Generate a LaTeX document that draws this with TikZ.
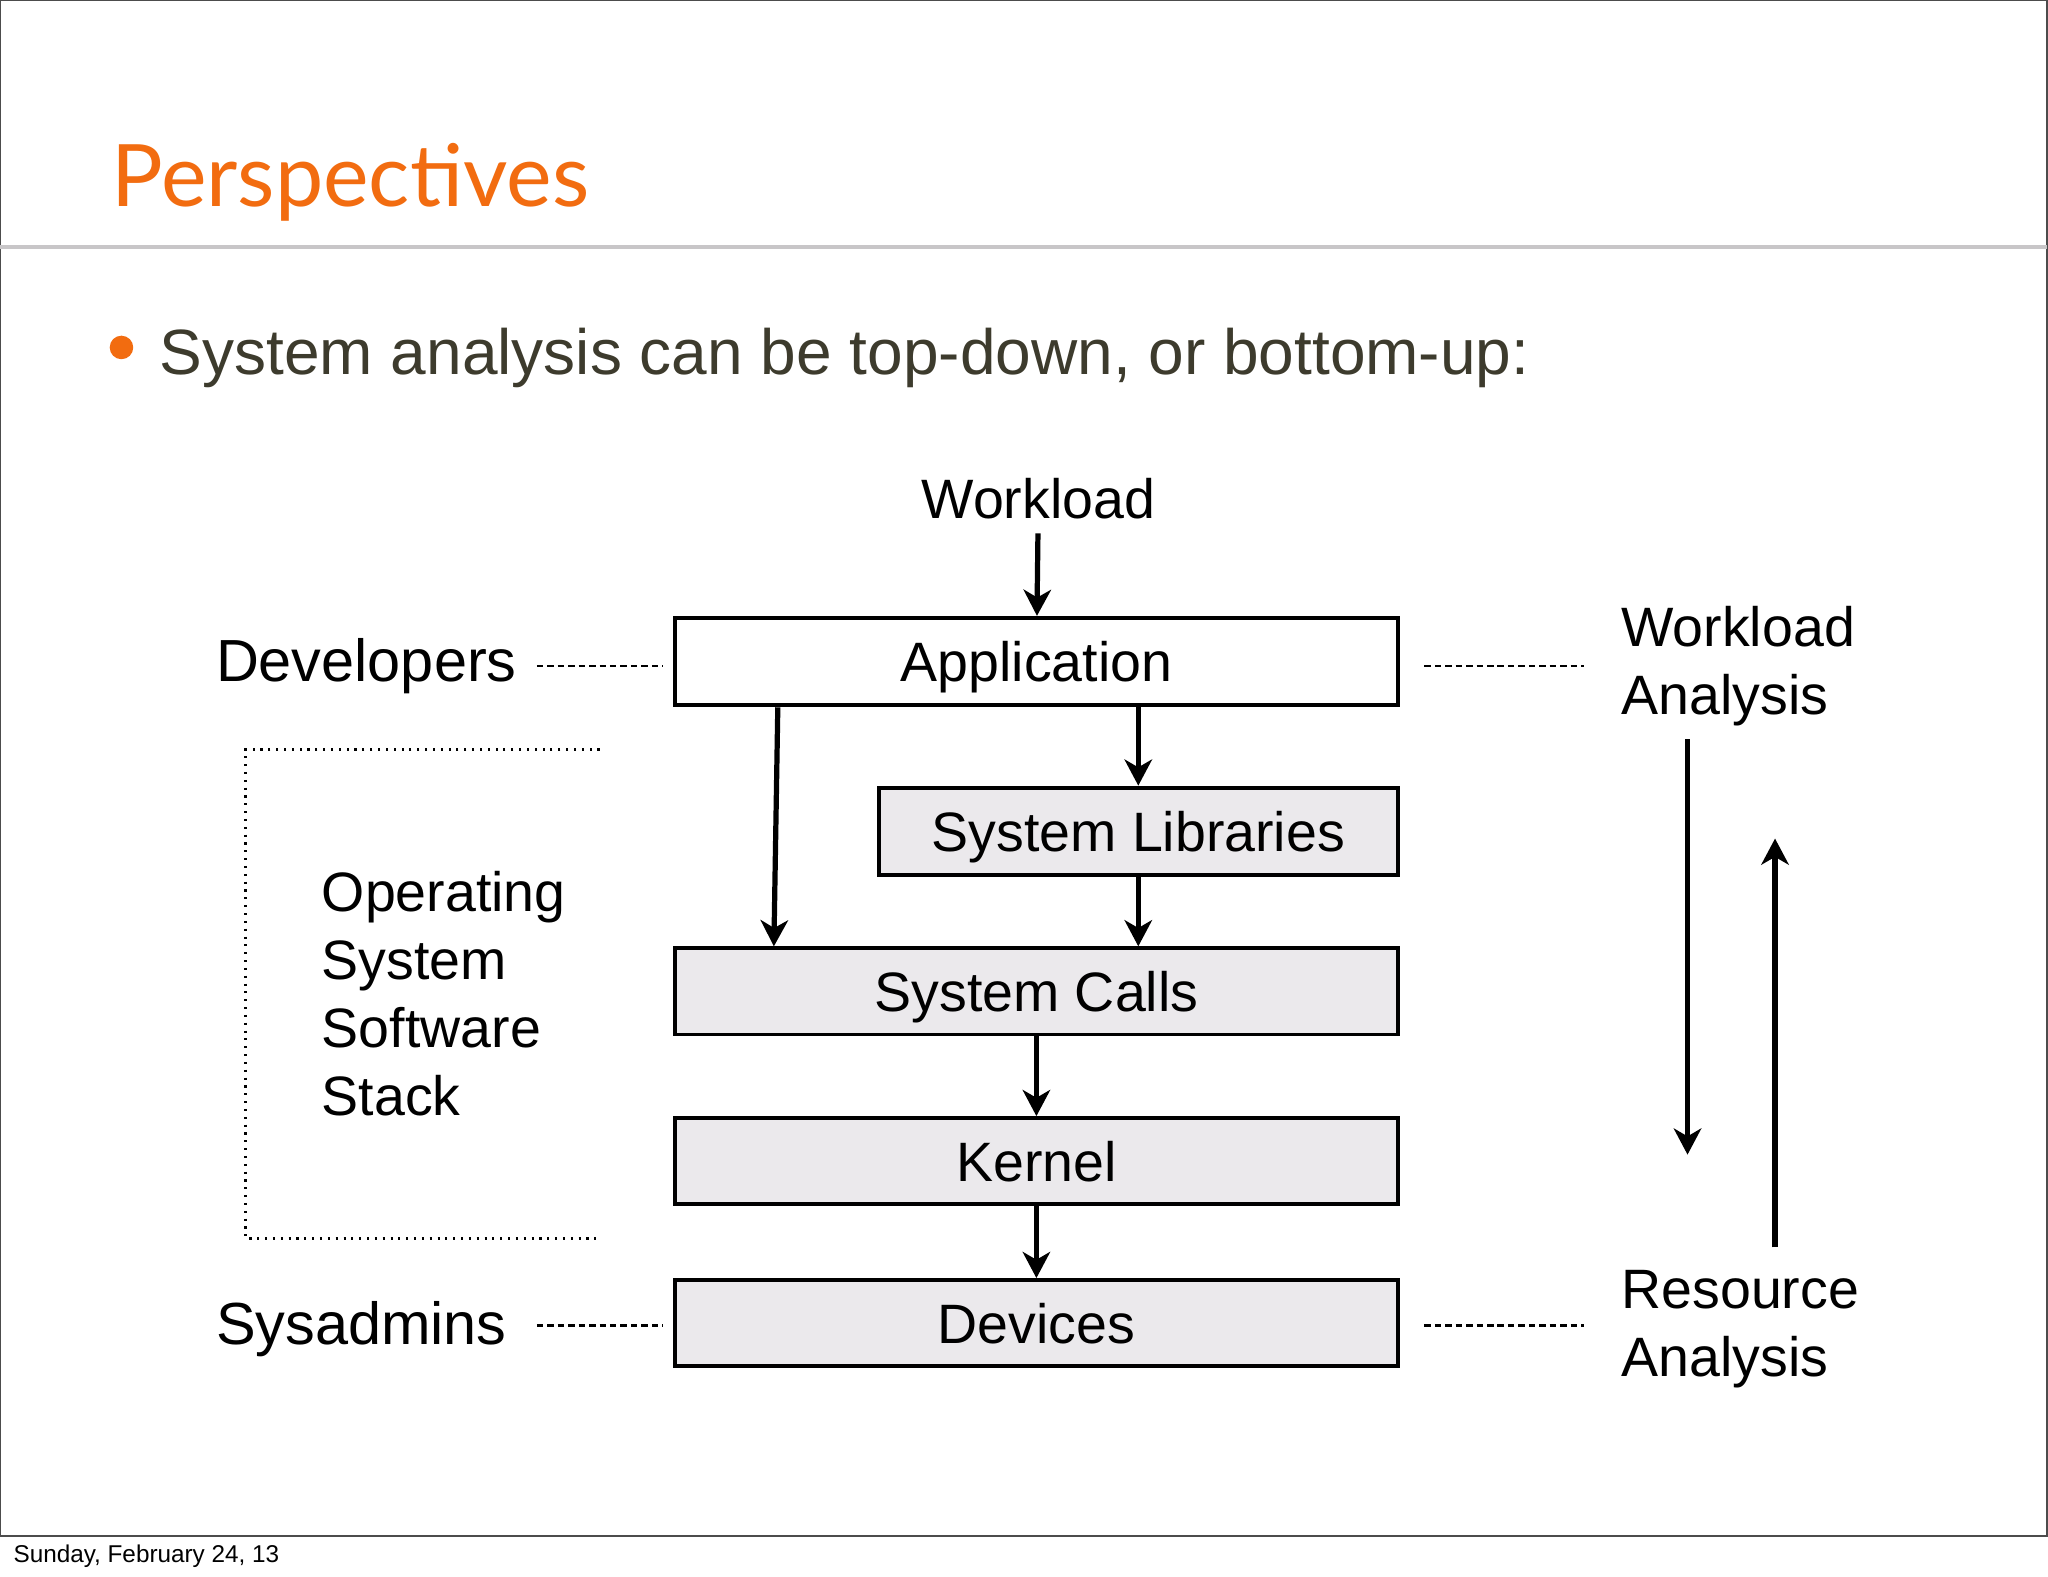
\documentclass[tikz,border=0pt]{standalone}
\usepackage{fontspec}
\usepackage{tikz}
\usepackage{xcolor}
\usetikzlibrary{arrows.meta}
\setmainfont{Liberation Sans}
\newfontfamily\titlefont{Lato}
\definecolor{slideorange}{RGB}{242,108,16}
\definecolor{slidetext}{RGB}{61,59,45}
\definecolor{boxgray}{RGB}{235,233,236}
\definecolor{rulegray}{RGB}{200,198,200}

\begin{document}
\begin{tikzpicture}[x=0.5pt,y=-0.5pt]%
  \tikzstyle{layer}=[rectangle,draw=black,line width=1.5pt,fill=boxgray,
    minimum width=276.5pt,minimum height=33.5pt,inner sep=0pt,
    text height=15.3pt,text depth=0pt,font=\fontsize{21.25pt}{26pt}\selectfont]
  \tikzstyle{lbl}=[inner sep=0pt,align=left,anchor=base west,
    font=\fontsize{21.25pt}{26pt}\selectfont]
  \tikzstyle{role}=[inner sep=0pt,anchor=base west,
    font=\fontsize{22.75pt}{27pt}\selectfont]
  \tikzstyle{arr}=[line width=2pt,-{Stealth[length=10pt,width=10.5pt,inset=3pt]}]
  \tikzstyle{dashln}=[line width=1pt,dash pattern=on 2.5pt off 1.5pt]
  \useasboundingbox[fill=white] (0,0) rectangle (1568,1207);
  % slide frame and title
  \draw[black!70,line width=0.8pt] (0,0) rectangle (1567,1176);
  \draw[rulegray,line width=1.5pt] (0,189) -- (1567,189);
  \node(title)[anchor=base west,inner sep=0pt,text=slideorange,
    font=\titlefont\fontsize{33pt}{38pt}\selectfont] at (85,158) {Perspectives};
  \fill[slideorange] (93,266) circle (4.5pt);
  \node(bullet)[anchor=base west,inner sep=0pt,text=slidetext,
    font=\fontsize{24.5pt}{28pt}\selectfont] at (122,287)
    {System analysis can be top-down, or bottom-up:};
  \node(date)[anchor=base west,inner sep=0pt,font=\fontsize{9.3pt}{11pt}\selectfont]
    at (10,1196) {Sunday, February 24, 13};
  % the stack
  \node(wl)[anchor=base,inner sep=5.5pt,text depth=0pt,
    font=\fontsize{21.25pt}{26pt}\selectfont] at (795,397) {Workload};
  \node(app)[layer,fill=white] at (793.5,506.5) {Application};
  \node(lib)[layer,minimum width=198.5pt] at (871.5,636.5) {System Libraries};
  \node(calls)[layer,minimum height=33pt] at (793.5,759) {System Calls};
  \node(kern)[layer,minimum height=33pt] at (793.5,889) {Kernel};
  \node(dev)[layer,minimum height=33pt] at (793.5,1013) {Devices};
  \draw[arr] (wl) -- (app);
  \draw[arr] (app.south -| lib) -- (lib);
  \draw[arr] (lib) -- (calls.north -| lib);
  \draw[arr] ([xshift=40pt]app.south west) -- ([xshift=38.5pt]calls.north west);
  \draw[arr] (calls) -- (kern);
  \draw[arr] (kern) -- (dev);
  % who looks where
  \node(devl)[role] at (165,522) {Developers};
  \node(sysl)[role] at (165,1029) {Sysadmins};
  \coordinate(dl1) at (411,510);
  \coordinate(dl2) at (411,1015);
  \coordinate(dr1) at (1213,510);
  \coordinate(dr2) at (1213,1015);
  \draw[dashln,shorten >=4pt] (dl1) -- (dl1 -| app.west);
  \draw[dashln,shorten >=4pt] (dl2) -- (dl2 -| dev.west);
  \draw[dashln,shorten <=9.5pt] (dr1 -| app.east) -- (dr1);
  \draw[dashln,shorten <=9.5pt] (dr2 -| dev.east) -- (dr2);
  \node(osl)[lbl] at (246,854) {Operating\\System\\Software\\Stack};
  \draw[line width=1.2pt,dash pattern=on 0.8pt off 2.2pt] (459,574) -| (188,948) -- (459,948);
  \node(wla)[lbl] at (1241,547) {Workload\\Analysis};
  \node(rsa)[lbl] at (1241,1054) {Resource\\Analysis};
  \coordinate(dn1) at (1292,566);
  \coordinate(dn2) at (1292,884);
  \coordinate(up1) at (1359,955);
  \coordinate(up2) at (1359,642);
  \draw[arr] (dn1) -- (dn2);
  \draw[arr] (up1) -- (up2);
\end{tikzpicture}
\end{document}
